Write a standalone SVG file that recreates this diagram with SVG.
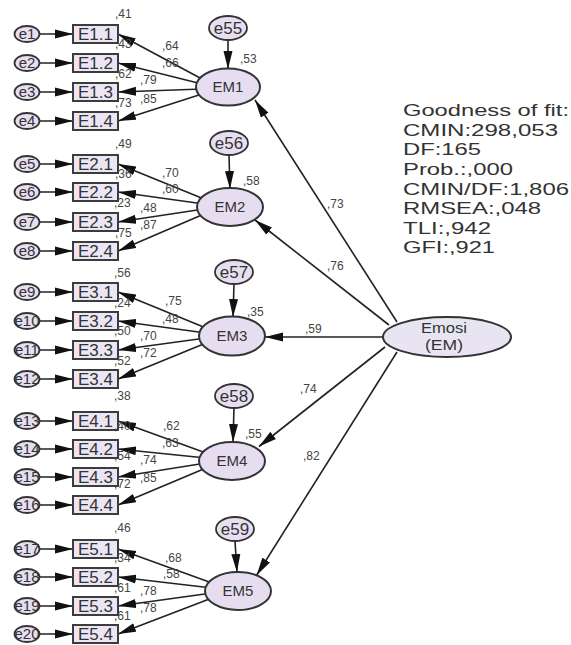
<svg xmlns="http://www.w3.org/2000/svg" width="571" height="645" viewBox="0 0 571 645">
<defs>
<style>
.ln{stroke:#222;stroke-width:1.6;fill:none;marker-end:url(#ah)}
.bx{fill:#ebe5f4;stroke:#3c3c3c;stroke-width:2}
.ec{fill:#e7dff1;stroke:#333;stroke-width:1.8}
.lv{fill:#e6def0;stroke:#333;stroke-width:2}
.t{font-family:"Liberation Sans",Arial,sans-serif;fill:#333;text-anchor:middle}
.bt{font-size:17px}
.et{font-size:15px}
.lt{font-size:15px}
.mt{font-size:14px}
.st{font-family:"Liberation Sans",Arial,sans-serif;fill:#444;font-size:12px}
.gf{font-family:"Liberation Sans",Arial,sans-serif;fill:#333;font-size:16.5px}
</style>
<marker id="ah" markerUnits="userSpaceOnUse" markerWidth="19" markerHeight="10" refX="18" refY="5" orient="auto"><path d="M0,0.5 L18,5 L0,9.5 z" fill="#111"/></marker>
<linearGradient id="eg" x1="0" y1="0" x2="0" y2="1"><stop offset="0" stop-color="#e4e7f1"/><stop offset="1" stop-color="#ece2f4"/></linearGradient>
</defs>
<rect width="571" height="645" fill="#fff"/>

<g id="connectors">
<line class="ln" x1="40" y1="34" x2="73" y2="34"/>
<line class="ln" x1="40" y1="63" x2="73" y2="63"/>
<line class="ln" x1="40" y1="92" x2="73" y2="92"/>
<line class="ln" x1="40" y1="121" x2="73" y2="121"/>
<line class="ln" x1="40" y1="164" x2="73" y2="164"/>
<line class="ln" x1="40" y1="192" x2="73" y2="192"/>
<line class="ln" x1="40" y1="222" x2="73" y2="222"/>
<line class="ln" x1="40" y1="251" x2="73" y2="251"/>
<line class="ln" x1="40" y1="292" x2="73" y2="292"/>
<line class="ln" x1="40" y1="321" x2="73" y2="321"/>
<line class="ln" x1="40" y1="350" x2="73" y2="350"/>
<line class="ln" x1="40" y1="379" x2="73" y2="379"/>
<line class="ln" x1="40" y1="421" x2="73" y2="421"/>
<line class="ln" x1="40" y1="449" x2="73" y2="449"/>
<line class="ln" x1="40" y1="477" x2="73" y2="477"/>
<line class="ln" x1="40" y1="505" x2="73" y2="505"/>
<line class="ln" x1="40" y1="549" x2="73" y2="549"/>
<line class="ln" x1="40" y1="577" x2="73" y2="577"/>
<line class="ln" x1="40" y1="606" x2="73" y2="606"/>
<line class="ln" x1="40" y1="634" x2="73" y2="634"/>
<line class="ln" x1="202" y1="79" x2="118" y2="34"/>
<line class="ln" x1="202" y1="84" x2="118" y2="63"/>
<line class="ln" x1="202" y1="89" x2="118" y2="92"/>
<line class="ln" x1="202" y1="94" x2="118" y2="121"/>
<line class="ln" x1="204" y1="199" x2="118" y2="164"/>
<line class="ln" x1="204" y1="204" x2="118" y2="192"/>
<line class="ln" x1="204" y1="209" x2="118" y2="222"/>
<line class="ln" x1="204" y1="214" x2="118" y2="251"/>
<line class="ln" x1="206" y1="328" x2="118" y2="292"/>
<line class="ln" x1="206" y1="333" x2="118" y2="321"/>
<line class="ln" x1="206" y1="338" x2="118" y2="350"/>
<line class="ln" x1="206" y1="343" x2="118" y2="379"/>
<line class="ln" x1="206" y1="453" x2="118" y2="421"/>
<line class="ln" x1="206" y1="458" x2="118" y2="449"/>
<line class="ln" x1="206" y1="463" x2="118" y2="477"/>
<line class="ln" x1="206" y1="468" x2="118" y2="505"/>
<line class="ln" x1="212" y1="583" x2="118" y2="549"/>
<line class="ln" x1="212" y1="588" x2="118" y2="577"/>
<line class="ln" x1="212" y1="593" x2="118" y2="606"/>
<line class="ln" x1="212" y1="598" x2="118" y2="634"/>
<line class="ln" x1="228" y1="40" x2="228" y2="69"/>
<line class="ln" x1="229" y1="155" x2="230" y2="189"/>
<line class="ln" x1="234" y1="284" x2="233" y2="317"/>
<line class="ln" x1="234" y1="408" x2="233" y2="442"/>
<line class="ln" x1="235" y1="541" x2="237" y2="572"/>
<line class="ln" x1="397" y1="322" x2="255" y2="100"/>
<line class="ln" x1="389" y1="325" x2="255" y2="220"/>
<line class="ln" x1="384" y1="337" x2="265" y2="337"/>
<line class="ln" x1="385" y1="347" x2="259" y2="446.5"/>
<line class="ln" x1="397" y1="352" x2="256.6" y2="575.3"/>
</g>

<g id="e-circles">
<g id="e1"><ellipse class="ec" cx="27" cy="34" rx="12.5" ry="8"/><text class="t et" x="27" y="39">e1</text></g>
<g id="e2"><ellipse class="ec" cx="27" cy="63" rx="12.5" ry="8"/><text class="t et" x="27" y="68">e2</text></g>
<g id="e3"><ellipse class="ec" cx="27" cy="92" rx="12.5" ry="8"/><text class="t et" x="27" y="97">e3</text></g>
<g id="e4"><ellipse class="ec" cx="27" cy="121" rx="12.5" ry="8"/><text class="t et" x="27" y="126">e4</text></g>
<g id="e5"><ellipse class="ec" cx="27" cy="164" rx="12.5" ry="8"/><text class="t et" x="27" y="169">e5</text></g>
<g id="e6"><ellipse class="ec" cx="27" cy="192" rx="12.5" ry="8"/><text class="t et" x="27" y="197">e6</text></g>
<g id="e7"><ellipse class="ec" cx="27" cy="222" rx="12.5" ry="8"/><text class="t et" x="27" y="227">e7</text></g>
<g id="e8"><ellipse class="ec" cx="27" cy="251" rx="12.5" ry="8"/><text class="t et" x="27" y="256">e8</text></g>
<g id="e9"><ellipse class="ec" cx="27" cy="292" rx="12.5" ry="8"/><text class="t et" x="27" y="297">e9</text></g>
<g id="e10"><ellipse class="ec" cx="27" cy="321" rx="12.5" ry="8"/><text class="t et" x="27" y="326">e10</text></g>
<g id="e11"><ellipse class="ec" cx="27" cy="350" rx="12.5" ry="8"/><text class="t et" x="27" y="355">e11</text></g>
<g id="e12"><ellipse class="ec" cx="27" cy="379" rx="12.5" ry="8"/><text class="t et" x="27" y="384">e12</text></g>
<g id="e13"><ellipse class="ec" cx="27" cy="421" rx="12.5" ry="8"/><text class="t et" x="27" y="426">e13</text></g>
<g id="e14"><ellipse class="ec" cx="27" cy="449" rx="12.5" ry="8"/><text class="t et" x="27" y="454">e14</text></g>
<g id="e15"><ellipse class="ec" cx="27" cy="477" rx="12.5" ry="8"/><text class="t et" x="27" y="482">e15</text></g>
<g id="e16"><ellipse class="ec" cx="27" cy="505" rx="12.5" ry="8"/><text class="t et" x="27" y="510">e16</text></g>
<g id="e17"><ellipse class="ec" cx="27" cy="549" rx="12.5" ry="8"/><text class="t et" x="27" y="554">e17</text></g>
<g id="e18"><ellipse class="ec" cx="27" cy="577" rx="12.5" ry="8"/><text class="t et" x="27" y="582">e18</text></g>
<g id="e19"><ellipse class="ec" cx="27" cy="606" rx="12.5" ry="8"/><text class="t et" x="27" y="611">e19</text></g>
<g id="e20"><ellipse class="ec" cx="27" cy="634" rx="12.5" ry="8"/><text class="t et" x="27" y="639">e20</text></g>
</g>

<g id="indicators">
<g id="E1.1"><rect class="bx" x="73" y="25" width="45" height="18"/><text class="t bt" x="95.5" y="40">E1.1</text></g>
<g id="E1.2"><rect class="bx" x="73" y="54" width="45" height="18"/><text class="t bt" x="95.5" y="69">E1.2</text></g>
<g id="E1.3"><rect class="bx" x="73" y="83" width="45" height="18"/><text class="t bt" x="95.5" y="98">E1.3</text></g>
<g id="E1.4"><rect class="bx" x="73" y="112" width="45" height="18"/><text class="t bt" x="95.5" y="127">E1.4</text></g>
<g id="E2.1"><rect class="bx" x="73" y="155" width="45" height="18"/><text class="t bt" x="95.5" y="170">E2.1</text></g>
<g id="E2.2"><rect class="bx" x="73" y="183" width="45" height="18"/><text class="t bt" x="95.5" y="198">E2.2</text></g>
<g id="E2.3"><rect class="bx" x="73" y="213" width="45" height="18"/><text class="t bt" x="95.5" y="228">E2.3</text></g>
<g id="E2.4"><rect class="bx" x="73" y="242" width="45" height="18"/><text class="t bt" x="95.5" y="257">E2.4</text></g>
<g id="E3.1"><rect class="bx" x="73" y="283" width="45" height="18"/><text class="t bt" x="95.5" y="298">E3.1</text></g>
<g id="E3.2"><rect class="bx" x="73" y="312" width="45" height="18"/><text class="t bt" x="95.5" y="327">E3.2</text></g>
<g id="E3.3"><rect class="bx" x="73" y="341" width="45" height="18"/><text class="t bt" x="95.5" y="356">E3.3</text></g>
<g id="E3.4"><rect class="bx" x="73" y="370" width="45" height="18"/><text class="t bt" x="95.5" y="385">E3.4</text></g>
<g id="E4.1"><rect class="bx" x="73" y="412" width="45" height="18"/><text class="t bt" x="95.5" y="427">E4.1</text></g>
<g id="E4.2"><rect class="bx" x="73" y="440" width="45" height="18"/><text class="t bt" x="95.5" y="455">E4.2</text></g>
<g id="E4.3"><rect class="bx" x="73" y="468" width="45" height="18"/><text class="t bt" x="95.5" y="483">E4.3</text></g>
<g id="E4.4"><rect class="bx" x="73" y="496" width="45" height="18"/><text class="t bt" x="95.5" y="511">E4.4</text></g>
<g id="E5.1"><rect class="bx" x="73" y="540" width="45" height="18"/><text class="t bt" x="95.5" y="555">E5.1</text></g>
<g id="E5.2"><rect class="bx" x="73" y="568" width="45" height="18"/><text class="t bt" x="95.5" y="583">E5.2</text></g>
<g id="E5.3"><rect class="bx" x="73" y="597" width="45" height="18"/><text class="t bt" x="95.5" y="612">E5.3</text></g>
<g id="E5.4"><rect class="bx" x="73" y="625" width="45" height="18"/><text class="t bt" x="95.5" y="640">E5.4</text></g>
</g>

<g id="disturbances">
<g id="e55"><ellipse class="ec" cx="228" cy="28" rx="19" ry="12"/><text class="t bt" x="228" y="34">e55</text></g>
<g id="e56"><ellipse class="ec" cx="229" cy="143" rx="19" ry="12"/><text class="t bt" x="229" y="149">e56</text></g>
<g id="e57"><ellipse class="ec" cx="234" cy="272" rx="19" ry="12"/><text class="t bt" x="234" y="278">e57</text></g>
<g id="e58"><ellipse class="ec" cx="234" cy="396" rx="19" ry="12"/><text class="t bt" x="234" y="402">e58</text></g>
<g id="e59"><ellipse class="ec" cx="235" cy="529" rx="19" ry="12"/><text class="t bt" x="235" y="535">e59</text></g>
</g>

<g id="factors">
<g id="EM1"><ellipse class="lv" cx="228" cy="87" rx="32" ry="18.5"/><text class="t lt" x="228" y="92">EM1</text></g>
<g id="EM2"><ellipse class="lv" cx="230" cy="207" rx="33" ry="19"/><text class="t lt" x="230" y="212">EM2</text></g>
<g id="EM3"><ellipse class="lv" cx="232" cy="336" rx="33" ry="19.5"/><text class="t lt" x="232" y="341">EM3</text></g>
<g id="EM4"><ellipse class="lv" cx="232" cy="461" rx="33" ry="19"/><text class="t lt" x="232" y="466">EM4</text></g>
<g id="EM5"><ellipse class="lv" cx="238" cy="591" rx="33" ry="19"/><text class="t lt" x="238" y="596">EM5</text></g>
<g id="Emosi"><ellipse cx="447" cy="337" rx="64" ry="20" fill="url(#eg)" stroke="#333" stroke-width="2"/><text class="t mt" x="444" y="333" textLength="46" lengthAdjust="spacingAndGlyphs">Emosi</text><text class="t mt" x="444" y="350" textLength="38" lengthAdjust="spacingAndGlyphs">(EM)</text></g>
</g>

<g id="estimates">
<text class="st" x="115" y="18">,41</text>
<text class="st" x="115" y="48">,43</text>
<text class="st" x="115" y="78">,62</text>
<text class="st" x="115" y="107">,73</text>
<text class="st" x="162" y="50">,64</text>
<text class="st" x="162" y="67">,66</text>
<text class="st" x="140" y="84">,79</text>
<text class="st" x="140" y="103">,85</text>
<text class="st" x="115" y="148">,49</text>
<text class="st" x="115" y="178">,36</text>
<text class="st" x="114" y="207">,23</text>
<text class="st" x="115" y="237">,75</text>
<text class="st" x="162" y="177">,70</text>
<text class="st" x="162" y="193">,60</text>
<text class="st" x="140" y="212">,48</text>
<text class="st" x="140" y="229">,87</text>
<text class="st" x="114" y="277">,56</text>
<text class="st" x="114" y="307">,24</text>
<text class="st" x="114" y="335">,50</text>
<text class="st" x="114" y="365">,52</text>
<text class="st" x="165" y="305">,75</text>
<text class="st" x="162" y="323">,48</text>
<text class="st" x="140" y="340">,70</text>
<text class="st" x="140" y="357">,72</text>
<text class="st" x="114" y="400">,38</text>
<text class="st" x="114" y="430">,40</text>
<text class="st" x="114" y="460">,54</text>
<text class="st" x="114" y="488">,72</text>
<text class="st" x="163" y="430">,62</text>
<text class="st" x="162" y="447">,63</text>
<text class="st" x="140" y="464">,74</text>
<text class="st" x="140" y="482">,85</text>
<text class="st" x="114" y="532">,46</text>
<text class="st" x="114" y="562">,34</text>
<text class="st" x="114" y="592">,61</text>
<text class="st" x="114" y="620">,61</text>
<text class="st" x="165" y="562">,68</text>
<text class="st" x="163" y="578">,58</text>
<text class="st" x="140" y="595">,78</text>
<text class="st" x="140" y="612">,78</text>
<text class="st" x="240" y="63">,53</text>
<text class="st" x="243" y="185">,58</text>
<text class="st" x="247" y="316">,35</text>
<text class="st" x="245" y="438">,55</text>
<text class="st" x="327" y="208">,73</text>
<text class="st" x="327" y="270">,76</text>
<text class="st" x="305" y="333">,59</text>
<text class="st" x="300" y="393">,74</text>
<text class="st" x="303" y="460">,82</text>
</g>

<g id="fit">
<text class="gf" x="403" y="116" textLength="166" lengthAdjust="spacingAndGlyphs">Goodness of fit:</text>
<text class="gf" x="403" y="135.5" textLength="155" lengthAdjust="spacingAndGlyphs">CMIN:298,053</text>
<text class="gf" x="403" y="155" textLength="78" lengthAdjust="spacingAndGlyphs">DF:165</text>
<text class="gf" x="403" y="175" textLength="110" lengthAdjust="spacingAndGlyphs">Prob.:,000</text>
<text class="gf" x="403" y="194.5" textLength="166" lengthAdjust="spacingAndGlyphs">CMIN/DF:1,806</text>
<text class="gf" x="403" y="214" textLength="138" lengthAdjust="spacingAndGlyphs">RMSEA:,048</text>
<text class="gf" x="403" y="234" textLength="88" lengthAdjust="spacingAndGlyphs">TLI:,942</text>
<text class="gf" x="403" y="253" textLength="92" lengthAdjust="spacingAndGlyphs">GFI:,921</text>
</g>
</svg>
